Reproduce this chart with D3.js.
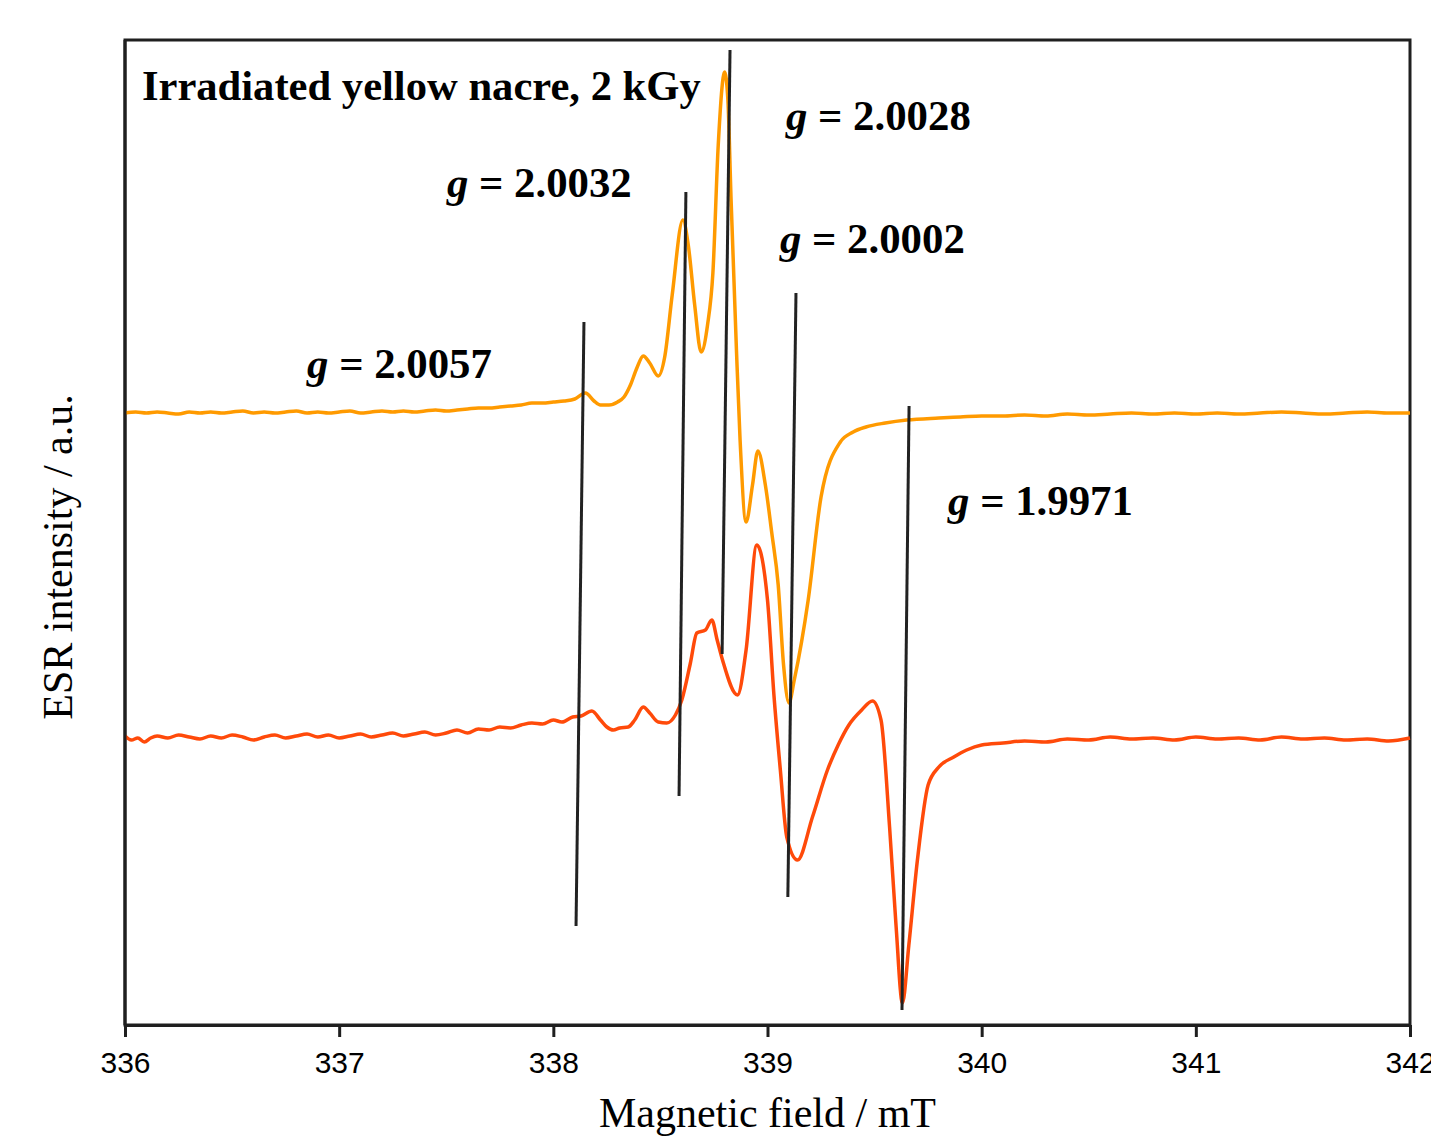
<!DOCTYPE html>
<html>
<head>
<meta charset="utf-8">
<script src="https://cdn.jsdelivr.net/npm/d3@7"></script>
<style>
  html, body { margin: 0; padding: 0; background: #fff; }
  svg { display: block; }
</style>
</head>
<body>
<svg id="chart" width="1431" height="1136"></svg>
<script>
// ---------- data (field in mT, intensity in a.u.) ----------
const xTicks = [336, 337, 338, 339, 340, 341, 342];

const orangeSeries = [
  [336.00,612],[336.05,613],[336.10,612],[336.15,613],[336.20,612],[336.25,611],[336.30,613],[336.35,612],
  [336.40,613],[336.45,612],[336.50,613],[336.55,614],[336.60,612],[336.65,613],[336.70,612],[336.75,613],
  [336.80,614],[336.85,612],[336.90,613],[336.95,612],[337.00,613],[337.05,614],[337.10,612],[337.15,613],
  [337.20,614],[337.25,613],[337.30,614],[337.35,613],[337.40,614],[337.45,615],[337.50,614],[337.55,615],
  [337.60,616],[337.65,617],[337.70,617],[337.75,618],[337.80,619],[337.85,620],[337.90,622],[337.95,622],
  [338.00,623],[338.05,624],[338.10,626],[338.15,632],[338.19,624],[338.22,620],[338.26,620],[338.30,623],
  [338.33,628],[338.36,640],[338.39,657],[338.42,669],[338.45,662],[338.49,649],[338.52,668],[338.555,730],
  [338.605,805],[338.63,780],[338.66,720],[338.69,673],[338.72,700],[338.745,752],[338.77,880],[338.80,953],
  [338.815,925],[338.83,825],[338.855,675],[338.872,585],[338.90,503],[338.93,540],[338.955,574],[338.99,540],
  [339.02,492],[339.05,440],[339.075,360],[339.10,322],[339.125,345],[339.19,425],[339.25,528],[339.34,583],
  [339.40,593],[339.46,598],[339.55,602],[339.65,605],[339.80,607],[339.90,608],[340.00,609],[340.10,609],
  [340.20,610],[340.30,609],[340.40,611],[340.50,610],[340.60,611],[340.70,612],[340.80,611],[340.90,612],
  [341.00,611],[341.10,612],[341.20,611],[341.30,612],[341.40,613],[341.50,612],[341.60,611],[341.70,612],
  [341.80,613],[341.90,612],[342.00,612]
];

const redSeries = [
  [336.00,289],[336.03,285],[336.06,287],[336.09,283],[336.12,287],[336.15,289],[336.20,287],[336.25,290],
  [336.30,288],[336.35,286],[336.40,289],[336.45,287],[336.50,290],[336.55,288],[336.60,285],[336.65,288],
  [336.70,290],[336.75,287],[336.80,289],[336.85,291],[336.90,288],[336.95,290],[337.00,287],[337.05,289],
  [337.10,291],[337.15,288],[337.20,290],[337.25,292],[337.30,289],[337.35,291],[337.40,293],[337.45,290],
  [337.50,292],[337.55,295],[337.60,292],[337.65,296],[337.70,295],[337.75,298],[337.80,297],[337.85,300],
  [337.90,302],[337.95,301],[338.00,305],[338.04,303],[338.09,308],[338.13,309],[338.18,314],[338.22,305],
  [338.25,298],[338.28,295],[338.31,297],[338.35,298],[338.38,305],[338.42,318],[338.45,312],[338.49,303],
  [338.53,302],[338.57,310],[338.60,325],[338.64,362],[338.67,392],[338.71,395],[338.74,405],[338.765,385],
  [338.79,365],[338.86,330],[338.90,375],[338.95,480],[339.00,425],[339.03,330],[339.06,255],[339.09,188],
  [339.14,165],[339.21,208],[339.28,255],[339.33,280],[339.38,300],[339.44,315],[339.49,324],[339.53,305],
  [339.57,198],[339.60,100],[339.63,22],[339.66,80],[339.70,165],[339.75,240],[339.80,258],[339.87,268],
  [339.93,275],[340.00,280],[340.10,282],[340.20,284],[340.30,283],[340.40,286],[340.50,285],[340.60,288],
  [340.70,286],[340.80,287],[340.90,285],[341.00,288],[341.10,286],[341.20,287],[341.30,285],[341.40,288],
  [341.50,286],[341.60,287],[341.70,285],[341.80,286],[341.90,284],[342.00,287]
];

// marker lines: [field0, intensity0, field1, intensity1]
const markerLines = [
  [338.143, 703, 338.106, 99],
  [338.619, 833, 338.587, 229],
  [338.825, 975, 338.788, 371],
  [339.133, 732, 339.095, 128],
  [339.661, 619, 339.628, 15]
];

// g-value labels: [text value, field, intensity]
const gLabels = [
  ["2.0057", 336.850, 647],
  ["2.0032", 337.503, 828],
  ["2.0028", 339.086, 895],
  ["2.0002", 339.058, 772],
  ["1.9971", 339.843, 510]
];

const titleText = "Irradiated yellow nacre, 2 kGy";
const titleAnchor = [336.079, 925];

// ---------- drawing ----------
const W = 1431, H = 1136;
const margin = {left: 125, right: 21, top: 40, bottom: 111};
const svg = d3.select("#chart");

const x = d3.scaleLinear().domain([336, 342]).range([margin.left, W - margin.right]);
const y = d3.scaleLinear().domain([0, 985]).range([H - margin.bottom, margin.top]);

const axisColor = "#1f1f1f";

// frame (top and right)
svg.append("rect")
  .attr("x", x(336)).attr("y", y(985))
  .attr("width", x(342) - x(336)).attr("height", y(0) - y(985))
  .attr("fill", "none").attr("stroke", axisColor).attr("stroke-width", 3);

const line = d3.line().x(d => x(d[0])).y(d => y(d[1])).curve(d3.curveMonotoneX);

svg.append("path").datum(orangeSeries)
  .attr("d", line).attr("fill", "none")
  .attr("stroke", "#FF9A00").attr("stroke-width", 3.5).attr("stroke-linejoin", "round");

svg.append("path").datum(redSeries)
  .attr("d", line).attr("fill", "none")
  .attr("stroke", "#FF4A0A").attr("stroke-width", 3.5).attr("stroke-linejoin", "round");

svg.selectAll("line.marker").data(markerLines).enter().append("line")
  .attr("class", "marker")
  .attr("x1", d => x(d[0])).attr("y1", d => y(d[1]))
  .attr("x2", d => x(d[2])).attr("y2", d => y(d[3]))
  .attr("stroke", "#222").attr("stroke-width", 3);

// x axis
const xAxis = d3.axisBottom(x).tickValues(xTicks).tickSize(12).tickSizeOuter(0).tickPadding(15)
  .tickFormat(d3.format("d"));
const gx = svg.append("g").attr("transform", `translate(0,${y(0)})`).call(xAxis);
gx.select(".domain").attr("stroke", axisColor).attr("stroke-width", 3);
gx.selectAll(".tick line").attr("stroke", axisColor).attr("stroke-width", 3);
gx.selectAll(".tick text").attr("fill", "#000")
  .style("font-family", "'Liberation Sans', Arial, sans-serif").style("font-size", "30px");

// y axis line
svg.append("line")
  .attr("x1", x(336)).attr("x2", x(336)).attr("y1", y(0)).attr("y2", y(985))
  .attr("stroke", axisColor).attr("stroke-width", 3);

// axis titles
svg.append("text")
  .attr("x", (x(336) + x(342)) / 2).attr("y", 1127)
  .attr("text-anchor", "middle")
  .style("font-family", "'Liberation Serif', 'Times New Roman', serif").style("font-size", "42px")
  .text("Magnetic field / mT");

svg.append("text")
  .attr("transform", "translate(72,557) rotate(-90)")
  .attr("text-anchor", "middle")
  .style("font-family", "'Liberation Serif', 'Times New Roman', serif").style("font-size", "42px")
  .text("ESR intensity / a.u.");

// title
svg.append("text")
  .attr("x", x(titleAnchor[0])).attr("y", y(titleAnchor[1]))
  .style("font-family", "'Liberation Serif', 'Times New Roman', serif").style("font-size", "42.6px")
  .style("font-weight", "bold")
  .text(titleText);

// g labels
const gl = svg.selectAll("text.glabel").data(gLabels).enter().append("text")
  .attr("class", "glabel")
  .attr("x", d => x(d[1])).attr("y", d => y(d[2]))
  .style("font-family", "'Liberation Serif', 'Times New Roman', serif").style("font-size", "42.8px")
  .style("font-weight", "bold");
gl.append("tspan").style("font-style", "italic").text("g");
gl.append("tspan").text(d => " = " + d[0]);
</script>
</body>
</html>
